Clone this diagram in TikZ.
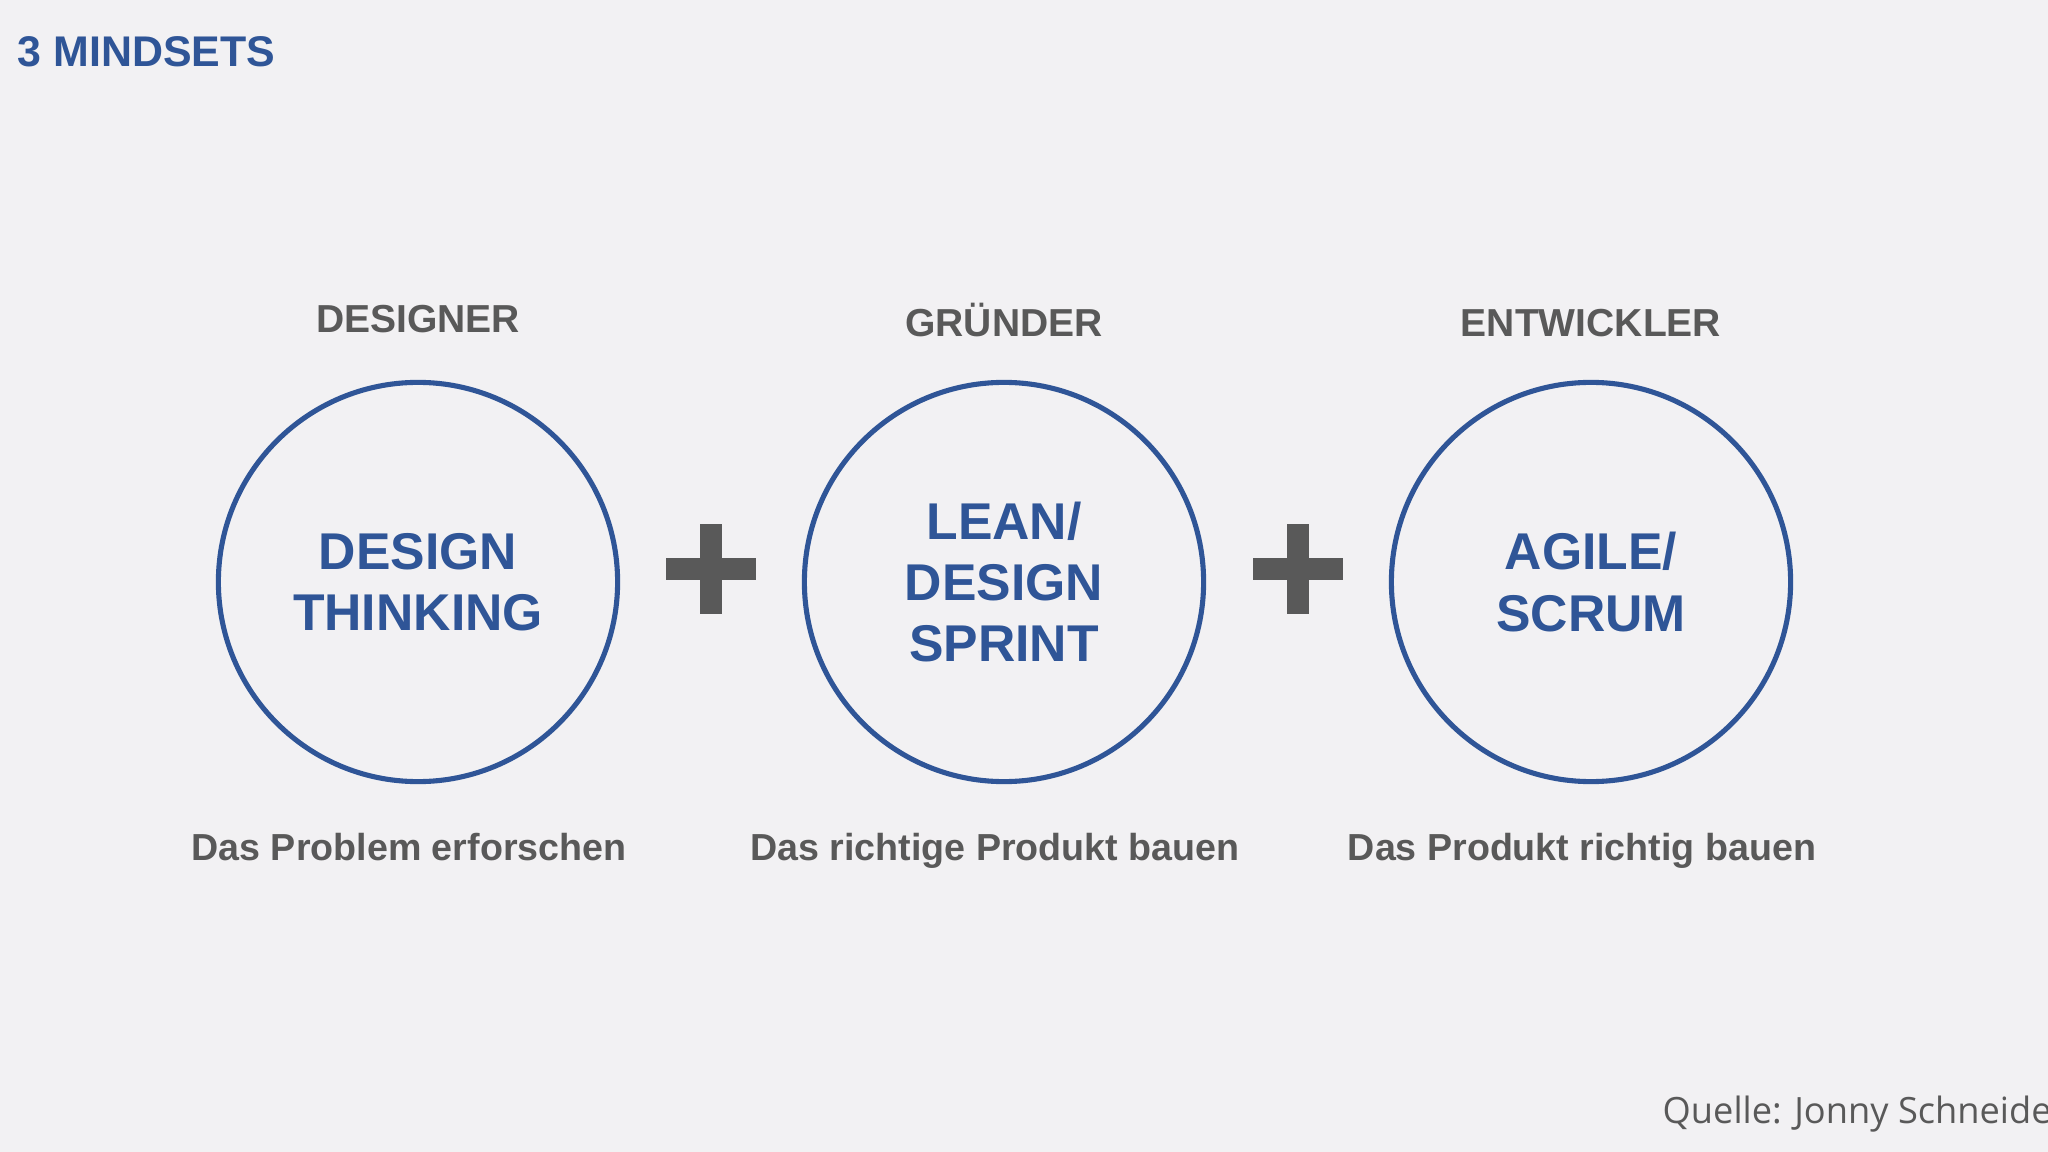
\documentclass[tikz,border=0pt]{standalone}
\usepackage{fontspec}
\setmainfont{Liberation Sans}
\newfontfamily\quellefont{Open Sans}
\usepackage{tikz}
\usetikzlibrary{positioning,calc}
\definecolor{blau}{HTML}{2F5597}
\definecolor{grau}{HTML}{595959}
\definecolor{hgrund}{HTML}{F2F1F3}

\begin{document}
\begin{tikzpicture}[x=0.01cm, y=-0.01cm,
    kreis/.style={draw=blau, line width=1.45pt, circle, minimum size=3.99cm, inner sep=0pt,
      text=blau, align=center, font=\fontsize{14.7}{17.4}\selectfont\bfseries},
    kopf/.style={text=grau, anchor=base, inner sep=0pt, font=\fontsize{11.1}{13}\selectfont\bfseries},
    fuss/.style={text=grau, anchor=base, inner sep=0pt, font=\fontsize{10.7}{13}\selectfont\bfseries}]
    \fill[hgrund] (0,0) rectangle (2048,1152);
    \useasboundingbox (0,0) rectangle (2048,1152);

    %titel
    \node[text=blau, anchor=base west, inner sep=0pt, font=\fontsize{12.2}{14}\selectfont\bfseries] (titel) at (17,67) {3 MINDSETS};

    %kreise
    \node[kreis] (A) at (418,582) {DESIGN\\THINKING};
    \node[kreis] (B) at (1004,582) {LEAN/\\DESIGN\\SPRINT};
    \node[kreis] (C) at (1591,582) {AGILE/\\SCRUM};

    %rollen
    \node[kopf] (kA) at (418,333) {DESIGNER};
    \node[kopf] (kB) at (1004,337) {GRÜNDER};
    \node[kopf] (kC) at (1591,337) {ENTWICKLER};

    %beschreibung
    \node[fuss] (fA) at (409,860) {Das Problem erforschen};
    \node[fuss] (fB) at (995,860) {Das richtige Produkt bauen};
    \node[fuss] (fC) at (1582,860) {Das Produkt richtig bauen};

    %plus
    \coordinate (P1) at ($(A)!0.5!(B)+(0,-13)$);
    \coordinate (P2) at ($(B)!0.5!(C)+(0,-13)$);
    \foreach \p in {P1,P2} {
      \fill[grau] ($(\p)+(-45,-11)$) rectangle ($(\p)+(45,11)$);
      \fill[grau] ($(\p)+(-11,-45)$) rectangle ($(\p)+(11,45)$);
    }

    %quelle
    \node[text=grau, anchor=base west, inner sep=0pt, font=\quellefont\fontsize{10.3}{12}\selectfont] (quelle) at (1662,1123) {Quelle: Jonny Schneider};
\end{tikzpicture}
\end{document}
